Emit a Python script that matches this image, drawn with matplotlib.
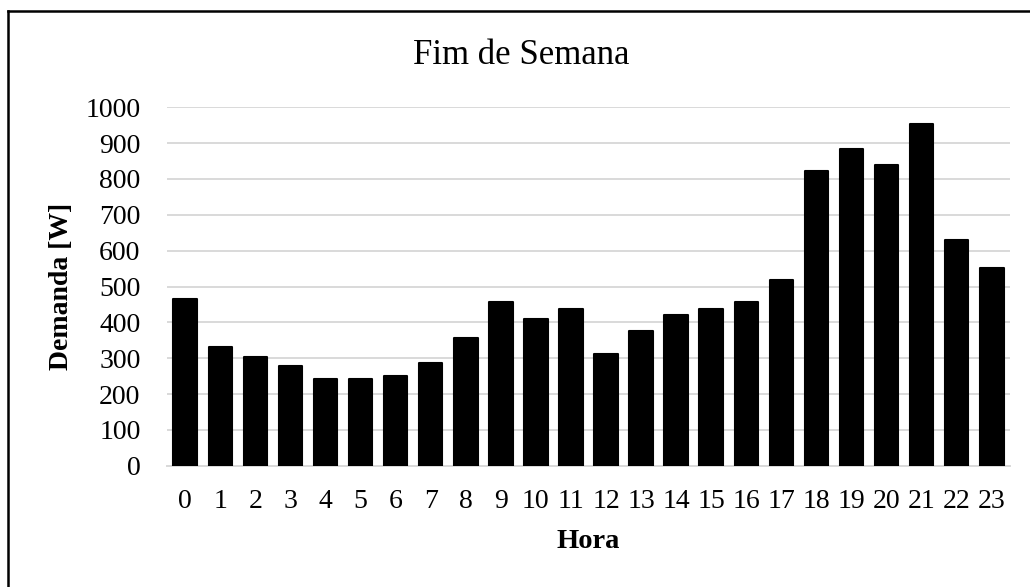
import matplotlib
matplotlib.use("Agg")
import matplotlib.pyplot as plt
from matplotlib.lines import Line2D

hours = [str(h) for h in range(24)]
demand = [464, 332, 302, 278, 243, 243, 250, 286, 357, 457, 410, 438,
          313, 375, 420, 438, 457, 517, 822, 883, 840, 954, 630, 552]
yticks = [0, 100, 200, 300, 400, 500, 600, 700, 800, 900, 1000]

plt.rcParams['font.family'] = ['Liberation Serif', 'DejaVu Serif']

W, H = 1030, 587
fig = plt.figure(figsize=(W / 100, H / 100), dpi=100)
ax = fig.add_axes([167 / W, 1 - 465.7 / H, (1010 - 167) / W, (465.7 - 107.3) / H])

x = list(range(len(hours)))
ax.bar(x, demand, width=0.67, color='black', edgecolor='black',
       linewidth=1.5, joinstyle='round', zorder=3)

ax.set_xlim(-0.52, 23.52)
ax.set_ylim(0, 1000)
ax.set_yticks(yticks)
ax.set_xticks(x)
ax.set_xticklabels(hours)
ax.tick_params(axis='both', length=0, labelsize=20, colors='black')
ax.tick_params(axis='y', pad=19)
ax.tick_params(axis='x', pad=17)
ax.grid(axis='y', color='#d9d9d9', linewidth=1.4, zorder=0)
ax.set_axisbelow(True)
for s in ['top', 'right', 'left']:
    ax.spines[s].set_visible(False)
ax.spines['bottom'].set_color('#d9d9d9')
ax.spines['bottom'].set_linewidth(1.4)

ax.set_ylabel('Demanda [W]', fontsize=20, fontweight='bold')
ax.yaxis.set_label_coords(-0.110, 0.5)
fig.text(588 / W, 1 - 541.7 / H, 'Hora', fontsize=20.5, fontweight='bold',
         ha='center', va='center')
fig.text(521.7 / W, 1 - 55.7 / H, 'Fim de Semana', fontsize=25,
         ha='center', va='center')

# chart frame (left and top edges visible)
fig.add_artist(Line2D([7.5 / W, 7.5 / W], [0, 1 - 11 / H], transform=fig.transFigure,
                      color='black', linewidth=1.8))
fig.add_artist(Line2D([7.5 / W, 1], [1 - 11 / H, 1 - 11 / H], transform=fig.transFigure,
                      color='black', linewidth=1.8))

fig.savefig('out.png', dpi=100)
